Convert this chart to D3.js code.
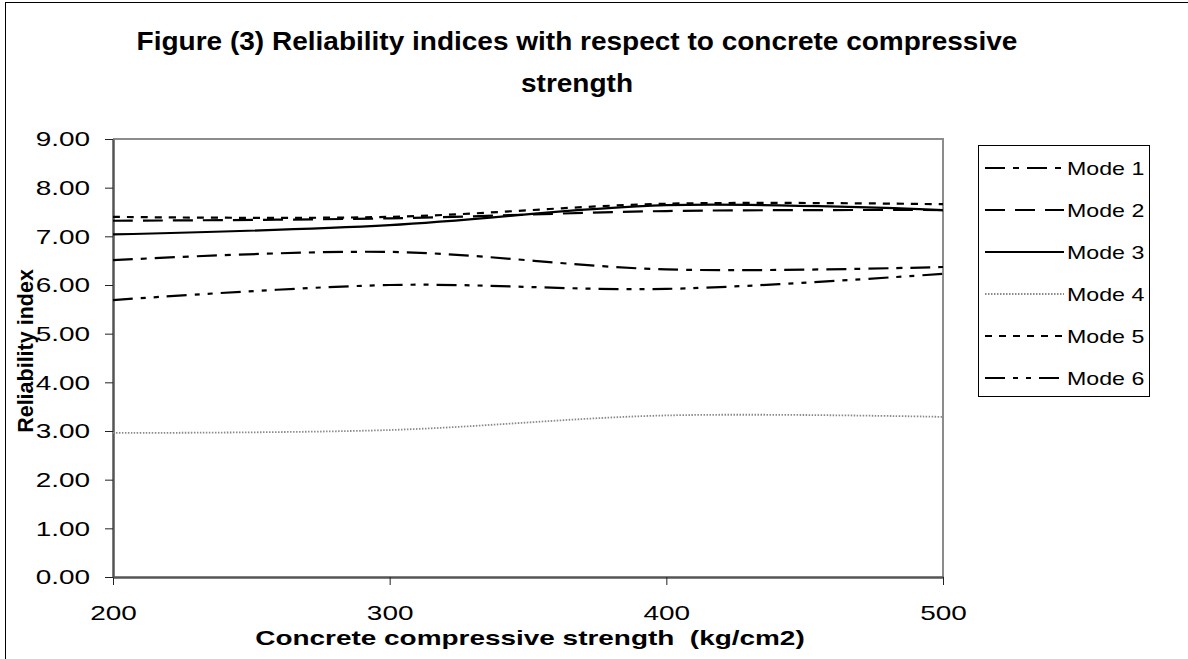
<!DOCTYPE html>
<html>
<head>
<meta charset="utf-8">
<script src="https://cdn.jsdelivr.net/npm/d3@7"></script>
<style>
  body { margin: 0; background: #fff; }
  #chart { width: 1188px; height: 659px; }
  text { font-family: "Liberation Sans", Arial, sans-serif; fill: #000; }
</style>
</head>
<body>
<div id="chart"></div>
<script>
// data
const strengths = [200, 300, 400, 500];
const yTicks = [0, 1, 2, 3, 4, 5, 6, 7, 8, 9];
const modeNames = ["Mode 1", "Mode 2", "Mode 3", "Mode 4", "Mode 5", "Mode 6"];
const mode1 = [6.51, 6.68, 6.32, 6.37];
const mode2 = [7.32, 7.37, 7.52, 7.54];
const mode3 = [7.04, 7.23, 7.64, 7.54];
const mode4 = [2.96, 3.02, 3.32, 3.29];
const mode5 = [7.40, 7.40, 7.67, 7.66];
const mode6 = [5.69, 6.00, 5.92, 6.23];

const width = 1188, height = 659;
const margin = {top: 139, left: 113, right: 245, bottom: 82};

const svg = d3.select("#chart")
    .append("svg")
    .attr("width", width)
    .attr("height", height);

// outer chart border
svg.append("rect")
    .attr("x", 5.5).attr("y", 2.5)
    .attr("width", 1200).attr("height", 700)
    .attr("fill", "#fff")
    .attr("stroke", "#000")
    .attr("stroke-width", 1);

const xScale = d3.scaleLinear()
    .domain([200, 500])
    .range([margin.left, width - margin.right]);

const yScale = d3.scaleLinear()
    .domain([0, 9])
    .range([height - margin.bottom, margin.top]);

// plot area frame (top and right in grey)
svg.append("path")
    .attr("d", `M${xScale(200)},${yScale(9)}H${xScale(500)}V${yScale(0)}`)
    .attr("fill", "none")
    .attr("stroke", "#8c8c8c")
    .attr("stroke-width", 2);

/* Axes */
const xAxis = svg.append("g")
    .attr("transform", `translate(0,${yScale(0)})`)
    .call(d3.axisBottom(xScale).tickValues(strengths).tickSize(8).tickPadding(20).tickSizeOuter(0));

const yAxis = svg.append("g")
    .attr("transform", `translate(${xScale(200)},0)`)
    .call(d3.axisLeft(yScale).tickValues(yTicks).tickSize(8).tickPadding(15)
        .tickFormat(d3.format(".2f")).tickSizeOuter(0));

[xAxis, yAxis].forEach(function(ax) {
    ax.select(".domain").attr("stroke", "#555").attr("stroke-width", 2.5);
    ax.selectAll(".tick line").attr("stroke", "#222").attr("stroke-width", 1);
    ax.selectAll(".tick text")
        .attr("data-stretch", 1.33)
        .attr("font-family", "Liberation Sans, Arial, sans-serif")
        .attr("font-size", 21)
        .attr("fill", "#000");
});
xAxis.selectAll(".tick text").attr("dy", "0.72em");

/* Series */
const series = [
    {name: modeNames[0], values: mode1, color: "#000", width: 2.2, dash: "20,8,6,8"},
    {name: modeNames[1], values: mode2, color: "#000", width: 2.2, dash: "20,10"},
    {name: modeNames[2], values: mode3, color: "#000", width: 2.2, dash: null},
    {name: modeNames[3], values: mode4, color: "#8a8a8a", width: 1.8, dash: "1.5,1.5"},
    {name: modeNames[4], values: mode5, color: "#000", width: 2.2, dash: "7,7"},
    {name: modeNames[5], values: mode6, color: "#000", width: 2.2, dash: "20,8,5,8,5,8"}
];

const line = d3.line()
    .x(function(d, i) { return xScale(strengths[i]); })
    .y(function(d) { return yScale(d); })
    .curve(d3.curveCatmullRom.alpha(0.5));

svg.selectAll(".series")
    .data(series)
    .enter()
    .append("path")
        .attr("class", "series")
        .attr("d", function(d) { return line(d.values); })
        .attr("fill", "none")
        .attr("stroke", function(d) { return d.color; })
        .attr("stroke-width", function(d) { return d.width; })
        .attr("stroke-dasharray", function(d) { return d.dash; });

/* Legend */
const legend = svg.append("g");
legend.append("rect")
    .attr("x", 978.5).attr("y", 145.5)
    .attr("width", 171).attr("height", 251)
    .attr("fill", "#fff")
    .attr("stroke", "#000")
    .attr("stroke-width", 1);

const rows = legend.selectAll(".row")
    .data(series)
    .enter()
    .append("g")
    .attr("transform", function(d, i) { return `translate(0,${168 + i * 42})`; });

rows.append("line")
    .attr("x1", 985).attr("x2", 1064)
    .attr("y1", 0).attr("y2", 0)
    .attr("stroke", function(d) { return d.color; })
    .attr("stroke-width", function(d) { return d.width; })
    .attr("stroke-dasharray", function(d) { return d.dash; });

rows.append("text")
    .attr("data-stretch", 1.22)
    .attr("x", 1067)
    .attr("y", 7)
    .attr("font-size", 19)
    .text(function(d) { return d.name; });

/* Titles */
svg.append("text")
    .attr("data-stretch", 1.12)
    .attr("x", 577).attr("y", 50)
    .attr("text-anchor", "middle")
    .attr("font-size", 25)
    .attr("font-weight", "bold")
    .text("Figure (3) Reliability indices with respect to concrete compressive");

svg.append("text")
    .attr("data-stretch", 1.12)
    .attr("x", 577).attr("y", 92)
    .attr("text-anchor", "middle")
    .attr("font-size", 25)
    .attr("font-weight", "bold")
    .text("strength");

svg.append("text")
    .attr("data-stretch", 1.33)
    .attr("x", 530).attr("y", 645)
    .attr("text-anchor", "middle")
    .attr("font-size", 21)
    .attr("font-weight", "bold")
    .style("white-space", "pre")
    .text("Concrete compressive strength  (kg/cm2)");

svg.append("text")
    .attr("transform", "translate(33,351) rotate(-90)")
    .attr("text-anchor", "middle")
    .attr("font-size", 21.5)
    .attr("font-weight", "bold")
    .text("Reliability index");

// widen the horizontal text to match the stretched original
svg.selectAll("text[data-stretch]").each(function() {
    const len = this.getComputedTextLength();
    d3.select(this)
        .attr("textLength", len * +this.getAttribute("data-stretch"))
        .attr("lengthAdjust", "spacingAndGlyphs");
});
</script>
</body>
</html>
